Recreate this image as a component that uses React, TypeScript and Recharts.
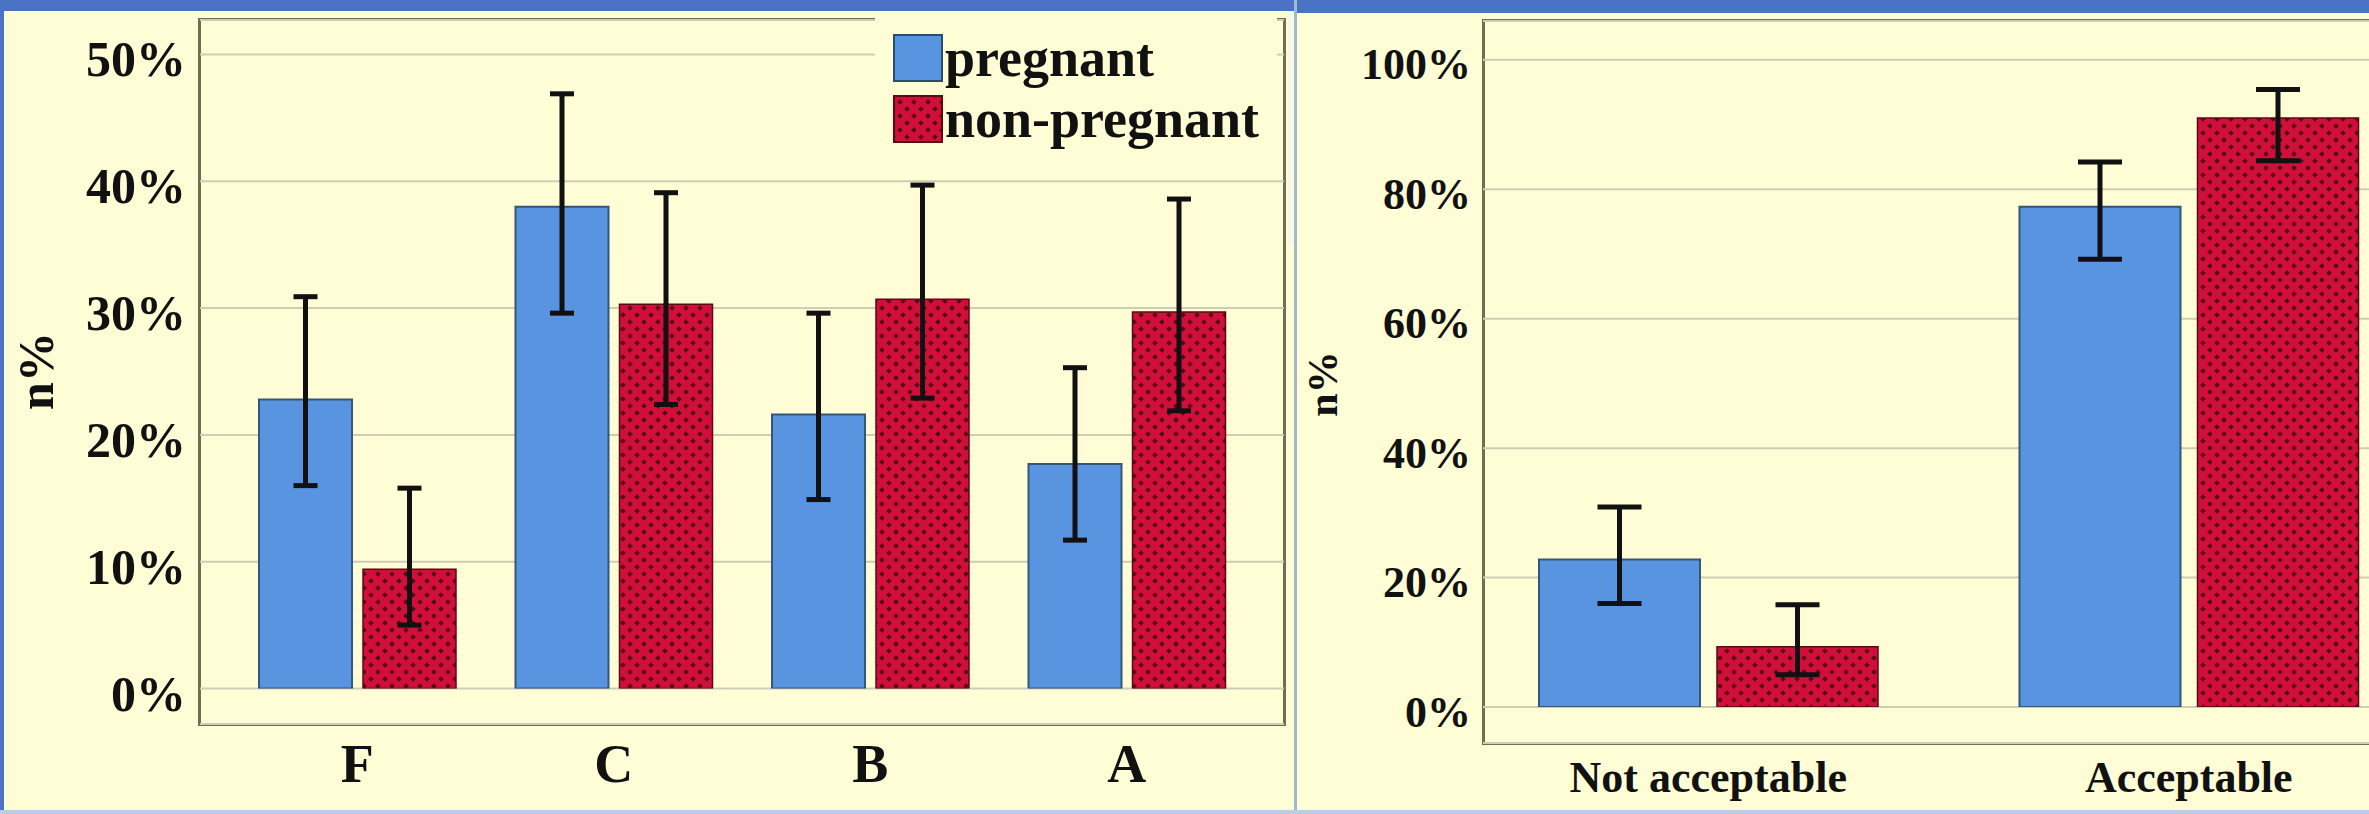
import React from "react";
import { BarChart, Bar, XAxis, YAxis, CartesianGrid, ErrorBar, Legend } from "recharts";

// grade chart (left)
const gradeCats = ["F", "C", "B", "A"];
const gradePregnant = [22.8, 38.0, 21.6, 17.7];
const gradePregnantLow = [16.0, 29.6, 14.9, 11.7];
const gradePregnantHigh = [30.9, 46.9, 29.6, 25.3];
const gradeNonPregnant = [9.4, 30.3, 30.7, 29.7];
const gradeNonPregnantLow = [5.0, 22.4, 22.9, 21.9];
const gradeNonPregnantHigh = [15.8, 39.1, 39.7, 38.6];
const gradeTicks = [0, 10, 20, 30, 40, 50];

// acceptability chart (right)
const accCats = ["Not acceptable", "Acceptable"];
const accPregnant = [22.8, 77.3];
const accPregnantLow = [16.0, 69.2];
const accPregnantHigh = [30.9, 84.2];
const accNonPregnant = [9.3, 91.0];
const accNonPregnantLow = [5.0, 84.4];
const accNonPregnantHigh = [15.8, 95.4];
const accTicks = [0, 20, 40, 60, 80, 100];

const BG = "#FEFDD5";
const BLUE = "#5894E0";
const FONT = "'Liberation Serif', 'Times New Roman', serif";

const buildRows = (
  cats: string[], p: number[], pLo: number[], pHi: number[],
  n: number[], nLo: number[], nHi: number[],
) =>
  cats.map((cat, i) => ({
    cat,
    p: p[i],
    pErr: [p[i] - pLo[i], pHi[i] - p[i]],
    n: n[i],
    nErr: [n[i] - nLo[i], nHi[i] - n[i]],
  }));

const gradeRows = buildRows(gradeCats, gradePregnant, gradePregnantLow, gradePregnantHigh,
  gradeNonPregnant, gradeNonPregnantLow, gradeNonPregnantHigh);
const accRows = buildRows(accCats, accPregnant, accPregnantLow, accPregnantHigh,
  accNonPregnant, accNonPregnantLow, accNonPregnantHigh);

const makeYTick = (fontSize: number) => (props: any) => (
  <text x={props.x} y={props.y + 5} textAnchor="end" dominantBaseline="central"
    fontFamily={FONT} fontWeight="bold" fontSize={fontSize} fill="#111">
    {props.payload.value}%
  </text>
);

const makeXTick = (fontSize: number, drop: number) => (props: any) => (
  <text x={props.x} y={props.y + drop} textAnchor="middle"
    fontFamily={FONT} fontWeight="bold" fontSize={fontSize} fill="#111">
    {props.payload.value}
  </text>
);

const makeYTitle = (cx: number, cy: number, fontSize: number) => () => (
  <text x={cx} y={cy} transform={`rotate(-90, ${cx}, ${cy})`} textAnchor="middle"
    dominantBaseline="central" fontFamily={FONT} fontWeight="bold" fontSize={fontSize} fill="#111">
    n%
  </text>
);

// crimson lattice with dark diamond holes
function HatchDefs() {
  const d = "#5A0515";
  return (
    <svg width={0} height={0} style={{ position: "absolute" }}>
      <defs>
        <pattern id="redHatch" width={14} height={14} patternUnits="userSpaceOnUse">
          <rect width={14} height={14} fill="#D0103A" />
          <polygon points="7,4.2 9.8,7 7,9.8 4.2,7" fill={d} />
          <polygon points="0,-2.8 2.8,0 0,2.8 -2.8,0" fill={d} />
          <polygon points="14,-2.8 16.8,0 14,2.8 11.2,0" fill={d} />
          <polygon points="0,11.2 2.8,14 0,16.8 -2.8,14" fill={d} />
          <polygon points="14,11.2 16.8,14 14,16.8 11.2,14" fill={d} />
        </pattern>
      </defs>
    </svg>
  );
}

const renderLegend = () => (
  <div style={{ width: 402, height: 149, background: BG, paddingTop: 17, boxSizing: "border-box" }}>
    {[
      { label: "pregnant", red: false },
      { label: "non-pregnant", red: true },
    ].map((it) => (
      <div key={it.label} style={{ display: "flex", alignItems: "center", height: 60, marginBottom: 1, paddingLeft: 18 }}>
        <svg width={50} height={48}>
          <rect x={1} y={1} width={48} height={46} fill={it.red ? "url(#redHatch)" : BLUE}
            stroke={it.red ? "#5A0A14" : "#2E4A6E"} strokeWidth={2} />
        </svg>
        <span style={{ fontFamily: FONT, fontWeight: "bold", fontSize: 54, lineHeight: "54px", marginLeft: 2, color: "#111" }}>
          {it.label}
        </span>
      </div>
    ))}
  </div>
);

const frame = { position: "absolute" as const, border: "3px solid #6E6E50", boxSizing: "border-box" as const };

export default function App() {
  return (
    <div style={{ position: "relative", width: 2369, height: 814, overflow: "hidden", background: BG }}>
      <style>{"body{margin:0}"}</style>
      <HatchDefs />

      {/* window chrome */}
      <div style={{ position: "absolute", left: 0, top: 0, width: 2369, height: 11, background: "#4A73C5" }} />
      <div style={{ position: "absolute", left: 1295, top: 0, width: 1074, height: 13, background: "#4A73C5" }} />
      <div style={{ position: "absolute", left: 0, top: 0, width: 4, height: 814, background: "#4A73C5" }} />
      <div style={{ position: "absolute", left: 1288, top: 11, width: 5, height: 234, background: "#F5F7EC" }} />
      <div style={{ position: "absolute", left: 1294, top: 0, width: 3, height: 814, background: "#A3B8C8" }} />
      <div style={{ position: "absolute", left: 0, top: 810, width: 2369, height: 4, background: "#B9D0E4" }} />

      {/* left chart */}
      <div style={{ ...frame, left: 198, top: 18, width: 1088, height: 708 }} />
      <div style={{ position: "absolute", left: 0, top: 0 }}>
        <BarChart width={1300} height={814} data={gradeRows}
          margin={{ top: 20, right: 16, bottom: 0, left: 100 }} barGap={11} barSize={93}>
          <CartesianGrid vertical={false} stroke="#CDCDB6" strokeWidth={2} />
          <XAxis dataKey="cat" height={90} axisLine={false} tickLine={false} tickSize={0} tickMargin={0}
            padding={{ left: 29, right: 29 }} interval={0} tick={makeXTick(54, 58)} />
          <YAxis width={100} domain={[0, 52.72]} ticks={gradeTicks} allowDataOverflow axisLine={false}
            tickLine={false} tickSize={0} tickMargin={14} padding={{ top: 0, bottom: 35.5 }}
            tick={makeYTick(50)} label={makeYTitle(36, 371, 50)} />
          <Legend layout="vertical" align="center" verticalAlign="middle" content={renderLegend}
            wrapperStyle={{ position: "absolute", left: 875, top: 11, width: 402, height: 149 }} />
          <Bar dataKey="p" fill={BLUE} stroke="#35557A" strokeWidth={2} isAnimationActive={false}>
            <ErrorBar dataKey="pErr" direction="y" width={12} strokeWidth={5} stroke="#111" />
          </Bar>
          <Bar dataKey="n" fill="url(#redHatch)" stroke="#5A0A14" strokeWidth={1.5} isAnimationActive={false}>
            <ErrorBar dataKey="nErr" direction="y" width={12} strokeWidth={5} stroke="#111" />
          </Bar>
        </BarChart>
      </div>

      {/* right chart */}
      <div style={{ ...frame, left: 1482, top: 19, width: 1000, height: 726 }} />
      <div style={{ position: "absolute", left: 1300, top: 0 }}>
        <BarChart width={1129} height={814} data={accRows}
          margin={{ top: 21, right: 0, bottom: 0, left: 83 }} barGap={17} barSize={161}>
          <CartesianGrid vertical={false} stroke="#CDCDB6" strokeWidth={2} />
          <XAxis dataKey="cat" height={71} axisLine={false} tickLine={false} tickSize={0} tickMargin={0}
            padding={{ left: -15, right: 0 }} interval={0} tick={makeXTick(44, 49)} />
          <YAxis width={100} domain={[0, 106]} ticks={accTicks} allowDataOverflow axisLine={false}
            tickLine={false} tickSize={0} tickMargin={12} padding={{ top: 0, bottom: 36 }}
            tick={makeYTick(44)} label={makeYTitle(23, 384, 42)} />
          <Bar dataKey="p" fill={BLUE} stroke="#35557A" strokeWidth={2} isAnimationActive={false}>
            <ErrorBar dataKey="pErr" direction="y" width={22} strokeWidth={5} stroke="#111" />
          </Bar>
          <Bar dataKey="n" fill="url(#redHatch)" stroke="#5A0A14" strokeWidth={1.5} isAnimationActive={false}>
            <ErrorBar dataKey="nErr" direction="y" width={22} strokeWidth={5} stroke="#111" />
          </Bar>
        </BarChart>
      </div>
    </div>
  );
}
